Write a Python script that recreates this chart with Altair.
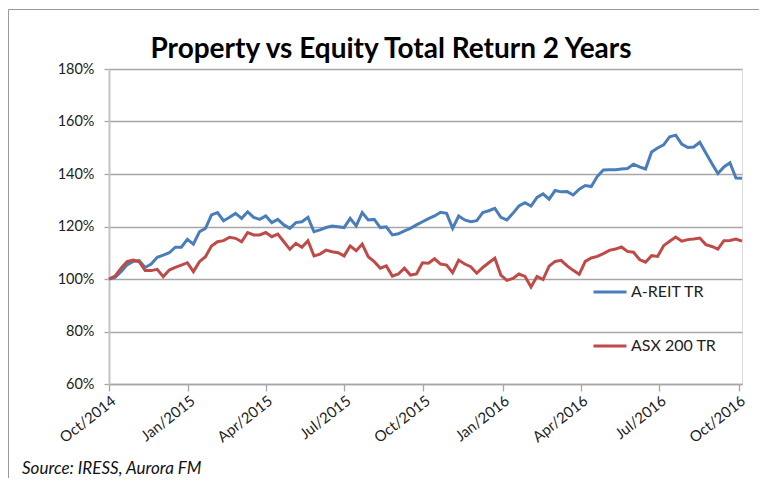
import altair as alt
import pandas as pd

# ---- data (weekly, % of start value) ----
week_dates = pd.date_range("2014-10-01", periods=106, freq="7D")

areit_tr = [
    100.0, 100.6, 102.8, 105.4, 106.7, 107.0, 104.4, 105.7, 108.3, 109.1,
    110.0, 112.1, 112.1, 115.1, 113.3, 118.0, 119.3, 124.4, 125.3, 122.2,
    123.5, 125.0, 123.1, 125.6, 123.5, 122.7, 124.0, 121.5, 122.7, 120.6,
    119.3, 121.5, 121.8, 123.5, 118.0, 118.7, 119.6, 120.2, 119.9, 119.6,
    123.1, 120.2, 125.3, 122.5, 122.7, 119.6, 119.9, 116.8, 117.2, 118.3,
    119.3, 120.6, 121.8, 123.0, 124.0, 125.4, 125.0, 119.3, 124.0, 122.5,
    121.8, 122.2, 125.3, 126.0, 126.9, 123.5, 122.5, 125.0, 127.8, 129.1,
    127.8, 131.1, 132.4, 130.4, 133.7, 133.2, 133.3, 132.0, 134.2, 135.6,
    135.2, 139.1, 141.5, 141.6, 141.6, 141.9, 142.1, 143.7, 142.7, 141.9,
    148.4, 149.9, 151.1, 154.2, 154.8, 151.4, 150.1, 150.3, 152.1, 148.0,
    144.0, 140.2, 142.7, 144.3, 138.5, 138.4,
]

asx200_tr = [
    100.0, 101.1, 104.1, 106.6, 107.2, 106.6, 103.2, 103.2, 103.7, 100.9,
    103.4, 104.4, 105.3, 106.2, 102.8, 106.6, 108.5, 112.6, 114.2, 114.6,
    115.9, 115.5, 114.2, 117.7, 116.8, 116.8, 117.7, 116.1, 117.1, 114.2,
    111.3, 113.6, 112.1, 114.6, 108.8, 109.5, 111.0, 110.4, 110.0, 108.8,
    112.6, 110.8, 113.3, 108.5, 106.6, 104.1, 105.0, 101.1, 101.9, 104.1,
    101.5, 101.9, 106.2, 106.0, 107.7, 105.7, 105.3, 102.4, 107.2, 105.7,
    104.7, 102.2, 104.4, 106.2, 107.9, 101.5, 99.5, 100.2, 101.9, 101.0,
    97.0, 101.0, 99.8, 104.9, 106.7, 107.1, 105.0, 103.3, 101.8, 106.7,
    108.0, 108.6, 109.7, 110.9, 111.4, 112.2, 110.5, 110.2, 107.4, 106.4,
    108.9, 108.6, 112.7, 114.4, 116.0, 114.4, 115.0, 115.2, 115.6, 113.1,
    112.4, 111.4, 114.6, 114.7, 115.2, 114.4,
]

series_names = ["A-REIT TR", "ASX 200 TR"]
series_colors = ["#4A7EBB", "#BE4B48"]
y_ticks = [60, 80, 100, 120, 140, 160, 180]
x_ticks = [(2014, 10), (2015, 1), (2015, 4), (2015, 7), (2015, 10),
           (2016, 1), (2016, 4), (2016, 7), (2016, 10)]

title_text = "Property vs Equity Total Return 2 Years"
source_text = "Source: IRESS, Aurora FM"

df = pd.DataFrame({
    "date": list(week_dates) * 2,
    "value": areit_tr + asx200_tr,
    "series": [series_names[0]] * len(areit_tr) + [series_names[1]] * len(asx200_tr),
})

FONT = "Lato"
W, H = 633, 315

lines = alt.Chart(df).mark_line(strokeWidth=3).encode(
    x=alt.X(
        "date:T",
        scale=alt.Scale(domain=[alt.DateTime(year=2014, month=10, date=1),
                                alt.DateTime(year=2016, month=10, date=5)]),
        axis=alt.Axis(
            title=None,
            values=[alt.DateTime(year=y, month=m, date=1) for y, m in x_ticks],
            format="%b/%Y",
            labelAngle=-38,
            labelAlign="right",
            labelBaseline="top",
            labelFlush=False,
            labelOverlap=False,
            labelPadding=2,
            grid=False,
            tickSize=7,
            tickColor="#a6a6a6",
            tickWidth=1.3,
            domainColor="#a6a6a6",
            domainWidth=1.3,
            labelFont=FONT,
            labelFontSize=15,
            labelColor="#222222",
        ),
    ),
    y=alt.Y(
        "value:Q",
        scale=alt.Scale(domain=[60, 180], nice=False, zero=False),
        axis=alt.Axis(
            title=None,
            values=y_ticks,
            labelExpr="datum.value + '%'",
            tickSize=5,
            tickColor="#a6a6a6",
            tickWidth=1.3,
            gridColor="#a6a6a6",
            gridWidth=1.3,
            domainColor="#c4c4c4",
            domainWidth=2,
            labelPadding=10,
            labelFont=FONT,
            labelFontSize=14.5,
            labelColor="#222222",
        ),
    ),
    color=alt.Color(
        "series:N",
        scale=alt.Scale(domain=series_names, range=series_colors),
        legend=alt.Legend(
            title=None,
            orient="none",
            legendX=483,
            legendY=205,
            direction="vertical",
            symbolType="stroke",
            symbolSize=1089,
            symbolStrokeWidth=3,
            labelFont=FONT,
            labelFontSize=16,
            labelColor="#222222",
            labelOffset=3,
            rowPadding=28,
            padding=0,
        ),
    ),
)

one = pd.DataFrame({"k": [0]})
frame_left = alt.Chart(one).mark_rule(color="#9a9a9a", strokeWidth=1).encode(
    x=alt.value(-100.5), y=alt.value(-59.5), y2=alt.value(420)
)
frame_top = alt.Chart(one).mark_rule(color="#9a9a9a", strokeWidth=1).encode(
    x=alt.value(-100.5), x2=alt.value(660), y=alt.value(-59.5)
)
title = alt.Chart(one).mark_text(
    align="center", baseline="alphabetic", font=FONT, fontSize=28,
    fontWeight="bold", color="#000000"
).encode(x=alt.value(282), y=alt.value(-11), text=alt.value(title_text))
source = alt.Chart(one).mark_text(
    align="left", baseline="alphabetic", font=FONT, fontSize=17,
    fontStyle="italic", color="#111111"
).encode(x=alt.value(-87), y=alt.value(405), text=alt.value(source_text))

chart = alt.layer(lines, frame_left, frame_top, title, source).properties(
    width=W,
    height=H,
    padding={"left": 101, "top": 61, "right": 17, "bottom": 94},
    autosize="none",
).configure_view(stroke=None).configure(background="white")

chart.save("out.html", embed_options={"renderer": "svg", "actions": False})
